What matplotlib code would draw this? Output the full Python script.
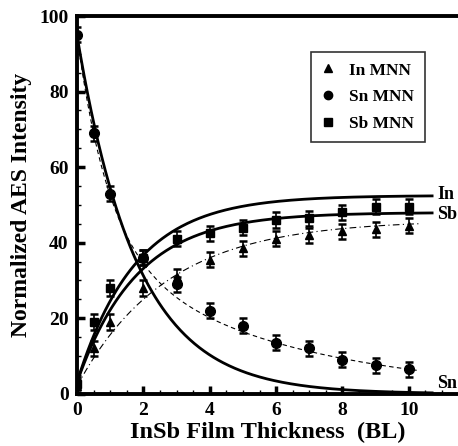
import numpy as np
import matplotlib
matplotlib.use("Agg")
import matplotlib.pyplot as plt
from matplotlib.lines import Line2D

plt.rcParams['font.family'] = ['Liberation Serif', 'DejaVu Serif']
plt.rcParams['font.weight'] = 'bold'

# Data
thickness = [0, 0.5, 1, 2, 3, 4, 5, 6, 7, 8, 9, 10]
in_mnn = [2.0, 12, 19, 28, 31, 35.5, 38.5, 41, 42, 43, 43.5, 44.5]
sn_mnn = [95, 69, 53, 36, 29, 22, 18, 13.5, 12, 9, 7.5, 6.5]
sb_mnn = [2.5, 19, 28, 36, 41, 42.5, 44, 46, 46.5, 48, 49.5, 49.5]
err = 2.0
series_labels = ['In MNN', 'Sn MNN', 'Sb MNN']

# Model curve parameters (exponential growth / decay)
in_model = dict(y0=3, amp=49.5, L=1.75)
sb_model = dict(y0=3, amp=45.0, L=1.8)
sn_model = dict(amp=95, L=1.8)
in_fit = dict(y0=2, amp=44, L=2.7)
sn_fit = dict(a1=55, l1=0.95, a2=40, l2=5.5)

xs = np.linspace(0, 10.7, 300)
xf = np.linspace(0, 10.3, 300)

fig = plt.figure(figsize=(4.58, 4.46), dpi=100)
ax = fig.add_axes([0.168, 0.117, 0.832, 0.847])

ax.plot(xs, in_model['y0'] + in_model['amp'] * (1 - np.exp(-xs / in_model['L'])), color='black', lw=2.0)
ax.plot(xs, sb_model['y0'] + sb_model['amp'] * (1 - np.exp(-xs / sb_model['L'])), color='black', lw=2.0)
ax.plot(xs, sn_model['amp'] * np.exp(-xs / sn_model['L']), color='black', lw=2.0)
ax.plot(xf, in_fit['y0'] + in_fit['amp'] * (1 - np.exp(-xf / in_fit['L'])), color='black', lw=0.8,
        linestyle=(0, (6, 3, 1, 3)))
ax.plot(xf, sn_fit['a1'] * np.exp(-xf / sn_fit['l1']) + sn_fit['a2'] * np.exp(-xf / sn_fit['l2']),
        color='black', lw=0.8, linestyle=(0, (4, 3)))

ekw = dict(color='black', capsize=3, elinewidth=1.2, capthick=1.8, linestyle='none')
ax.errorbar(thickness, in_mnn, yerr=err, marker='^', ms=6, **ekw)
ax.errorbar(thickness, sn_mnn, yerr=err, marker='o', ms=7, **ekw)
ax.errorbar(thickness, sb_mnn, yerr=err, marker='s', ms=6, **ekw)

ax.text(10.85, 52.8, 'In', fontsize=13, fontweight='bold', va='center')
ax.text(10.85, 47.5, 'Sb', fontsize=13, fontweight='bold', va='center')
ax.text(10.85, 2.8, 'Sn', fontsize=13, fontweight='bold', va='center')

ax.set_xlim(0, 11.48)
ax.set_ylim(0, 100)
ax.set_xticks([0, 2, 4, 6, 8, 10])
ax.set_xticks(np.arange(0, 11.5, 0.5), minor=True)
ax.set_yticks([0, 20, 40, 60, 80, 100])
ax.set_yticks(np.arange(0, 101, 5), minor=True)
ax.tick_params(which='major', direction='in', length=6, width=2.5, labelsize=14, pad=6)
ax.tick_params(which='minor', direction='in', length=3, width=1)
for lab in ax.get_xticklabels() + ax.get_yticklabels():
    lab.set_fontweight('bold')

ax.spines['right'].set_visible(False)
for s in ['left', 'bottom', 'top']:
    ax.spines[s].set_linewidth(2.8)

ax.set_xlabel('InSb Film Thickness  (BL)', fontsize=17.5, fontweight='bold', labelpad=2)
ax.set_ylabel('Normalized AES Intensity', fontsize=17, fontweight='bold', labelpad=5)

handles = [Line2D([], [], marker=m, color='black', linestyle='none', ms=s)
           for m, s in zip(['^', 'o', 's'], [6, 6, 6])]
leg = ax.legend(handles, series_labels, loc='upper left', bbox_to_anchor=(0.614, 0.905), borderaxespad=0,
                frameon=True, fancybox=False, edgecolor='black', fontsize=12.5, handlelength=0.8,
                handletextpad=0.8, labelspacing=0.6, borderpad=0.6)
leg.get_frame().set_linewidth(1.2)
for t in leg.get_texts():
    t.set_fontweight('bold')

fig.savefig('out.png', dpi=100)
